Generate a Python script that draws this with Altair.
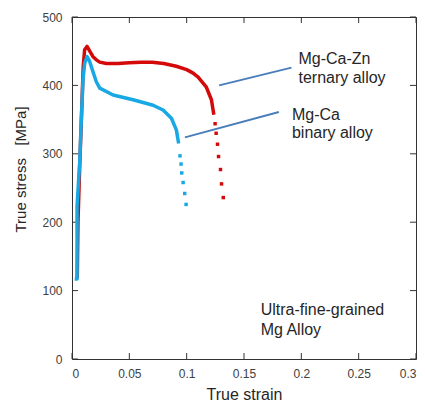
import altair as alt
import pandas as pd

# ---- data ----
# Mg-Ca-Zn ternary alloy (red), continuous part
red_x = [0.0046, 0.0052, 0.0068, 0.0085, 0.0098, 0.0110, 0.0131, 0.0155, 0.0183, 0.0215,
         0.0242, 0.0300, 0.0400, 0.0500, 0.0600, 0.0700, 0.0800, 0.0910, 0.1000, 0.1056,
         0.1100, 0.1170, 0.1216, 0.1237]
red_y = [118, 200, 286, 365, 428, 452, 457, 450, 442, 437,
         434, 432, 432, 433, 434, 434, 432, 428, 423, 418,
         412, 398, 379, 357]
# red fracture tail (sparse points)
red_tail_x = [0.1248, 0.1257, 0.1269, 0.1278, 0.1295, 0.1304, 0.1319]
red_tail_y = [344, 330, 314, 296, 277, 256, 236]

# Mg-Ca binary alloy (blue), continuous part
blue_x = [0.0024, 0.0044, 0.0044, 0.0067, 0.0082, 0.0096, 0.0110, 0.0131, 0.0154, 0.0183,
          0.0213, 0.0242, 0.0358, 0.0532, 0.0707, 0.0794, 0.0867, 0.0910, 0.0930]
blue_y = [117, 117, 223, 287, 354, 408, 432, 442, 435, 420,
          405, 396, 386, 379, 371, 364, 352, 335, 315]
# blue fracture tail
blue_tail_x = [0.0942, 0.0951, 0.0957, 0.0969, 0.0983, 0.0995]
blue_tail_y = [297, 285, 272, 258, 242, 226]

x_ticks = [0, 0.05, 0.1, 0.15, 0.2, 0.25, 0.3]
y_ticks = [0, 100, 200, 300, 400, 500]
x_domain = [0, 0.3]
y_domain = [0, 500]

# annotation leader lines (x, y, x2, y2)
lead_x = [0.1283, 0.0985]
lead_y = [400, 324]
lead_x2 = [0.1914, 0.1804]
lead_y2 = [426, 361]

label_text = ["Mg-Ca-Zn", "ternary alloy", "Mg-Ca", "binary alloy",
              "Ultra-fine-grained", "Mg Alloy"]
label_x = [0.1975, 0.1975, 0.1918, 0.1918, 0.1645, 0.1645]
label_y = [438, 411, 357, 331, 71, 42]

RED = "#d40a0a"
BLUE = "#18a8e4"
LEAD = "#4a7ebb"
FRAME = "#333333"
FONT = "Liberation Sans"
W, H = 344, 342
TK = 6  # tick length in pixels
SP = "\u00a0"

X0, X1 = x_domain
Y0, Y1 = y_domain
tk_y = TK * (Y1 - Y0) / H   # tick length expressed in y units
tk_x = TK * (X1 - X0) / W   # tick length expressed in x units

xs = alt.Scale(domain=x_domain, nice=False)
ys = alt.Scale(domain=y_domain, nice=False)

red_df = pd.DataFrame({"x": red_x, "y": red_y, "i": range(len(red_x))})
blue_df = pd.DataFrame({"x": blue_x, "y": blue_y, "i": range(len(blue_x))})
red_tail = pd.DataFrame({"x": red_tail_x, "y": red_tail_y})
blue_tail = pd.DataFrame({"x": blue_tail_x, "y": blue_tail_y})
lead = pd.DataFrame({"x": lead_x, "y": lead_y, "x2": lead_x2, "y2": lead_y2})
labels = pd.DataFrame({"t": label_text, "x": label_x, "y": label_y})

# inward tick segments on all four sides, built from the tick lists
seg = []
for v in x_ticks:
    seg.append({"x": v, "x2": v, "y": Y0, "y2": Y0 + tk_y})
    seg.append({"x": v, "x2": v, "y": Y1, "y2": Y1 - tk_y})
for v in y_ticks:
    seg.append({"x": X0, "x2": X0 + tk_x, "y": v, "y2": v})
    seg.append({"x": X1, "x2": X1 - tk_x, "y": v, "y2": v})
seg_df = pd.DataFrame(seg)

x_axis = alt.Axis(values=x_ticks, format="~g", title="True strain", grid=False,
                  domain=False, ticks=False, tickSize=0, labelPadding=9,
                  labelFontSize=12, labelColor="#404040", labelFont=FONT,
                  titleFont=FONT, titleFontSize=16, titleFontWeight="normal",
                  titleColor="#262626", titleY=40, titleBaseline="alphabetic")
y_axis = alt.Axis(values=y_ticks, title="True stress" + SP * 3 + "[MPa]", grid=False,
                  domain=False, ticks=False, tickSize=0, labelPadding=10,
                  labelFontSize=12, labelColor="#404040", labelFont=FONT,
                  titleFont=FONT, titleFontSize=15, titleFontWeight="normal",
                  titleColor="#262626", titleX=-52, titleY=152,
                  titleBaseline="middle", titleAlign="center", titleAngle=-90)

ticks = alt.Chart(seg_df).mark_rule(color=FRAME, strokeWidth=1).encode(
    x=alt.X("x:Q", scale=xs, axis=x_axis),
    y=alt.Y("y:Q", scale=ys, axis=y_axis),
    x2="x2:Q", y2="y2:Q",
)
red_line = alt.Chart(red_df).mark_line(color=RED, strokeWidth=3.5, strokeJoin="round").encode(
    x=alt.X("x:Q", scale=xs), y=alt.Y("y:Q", scale=ys), order="i:O"
)
blue_line = alt.Chart(blue_df).mark_line(color=BLUE, strokeWidth=3.5, strokeJoin="round").encode(
    x=alt.X("x:Q", scale=xs), y=alt.Y("y:Q", scale=ys), order="i:O"
)
red_dots = alt.Chart(red_tail).mark_square(color=RED, size=12, opacity=1).encode(
    x=alt.X("x:Q", scale=xs), y=alt.Y("y:Q", scale=ys)
)
blue_dots = alt.Chart(blue_tail).mark_square(color=BLUE, size=12, opacity=1).encode(
    x=alt.X("x:Q", scale=xs), y=alt.Y("y:Q", scale=ys)
)
leaders = alt.Chart(lead).mark_rule(color=LEAD, strokeWidth=2).encode(
    x=alt.X("x:Q", scale=xs), y=alt.Y("y:Q", scale=ys), x2="x2:Q", y2="y2:Q"
)
texts = alt.Chart(labels).mark_text(align="left", baseline="middle", fontSize=16,
                                    font=FONT, color="#262626").encode(
    x=alt.X("x:Q", scale=xs), y=alt.Y("y:Q", scale=ys), text="t:N"
)

chart = alt.layer(
    ticks, red_line, red_dots, blue_line, blue_dots, leaders, texts,
).properties(
    width=W, height=H,
    autosize=alt.AutoSizeParams(type="none"),
    padding={"left": 64, "top": 9, "right": 1, "bottom": 43},
    background="white",
).configure_view(stroke=FRAME, strokeWidth=1)

chart.save("out.html", embed_options={"renderer": "svg", "actions": False})
